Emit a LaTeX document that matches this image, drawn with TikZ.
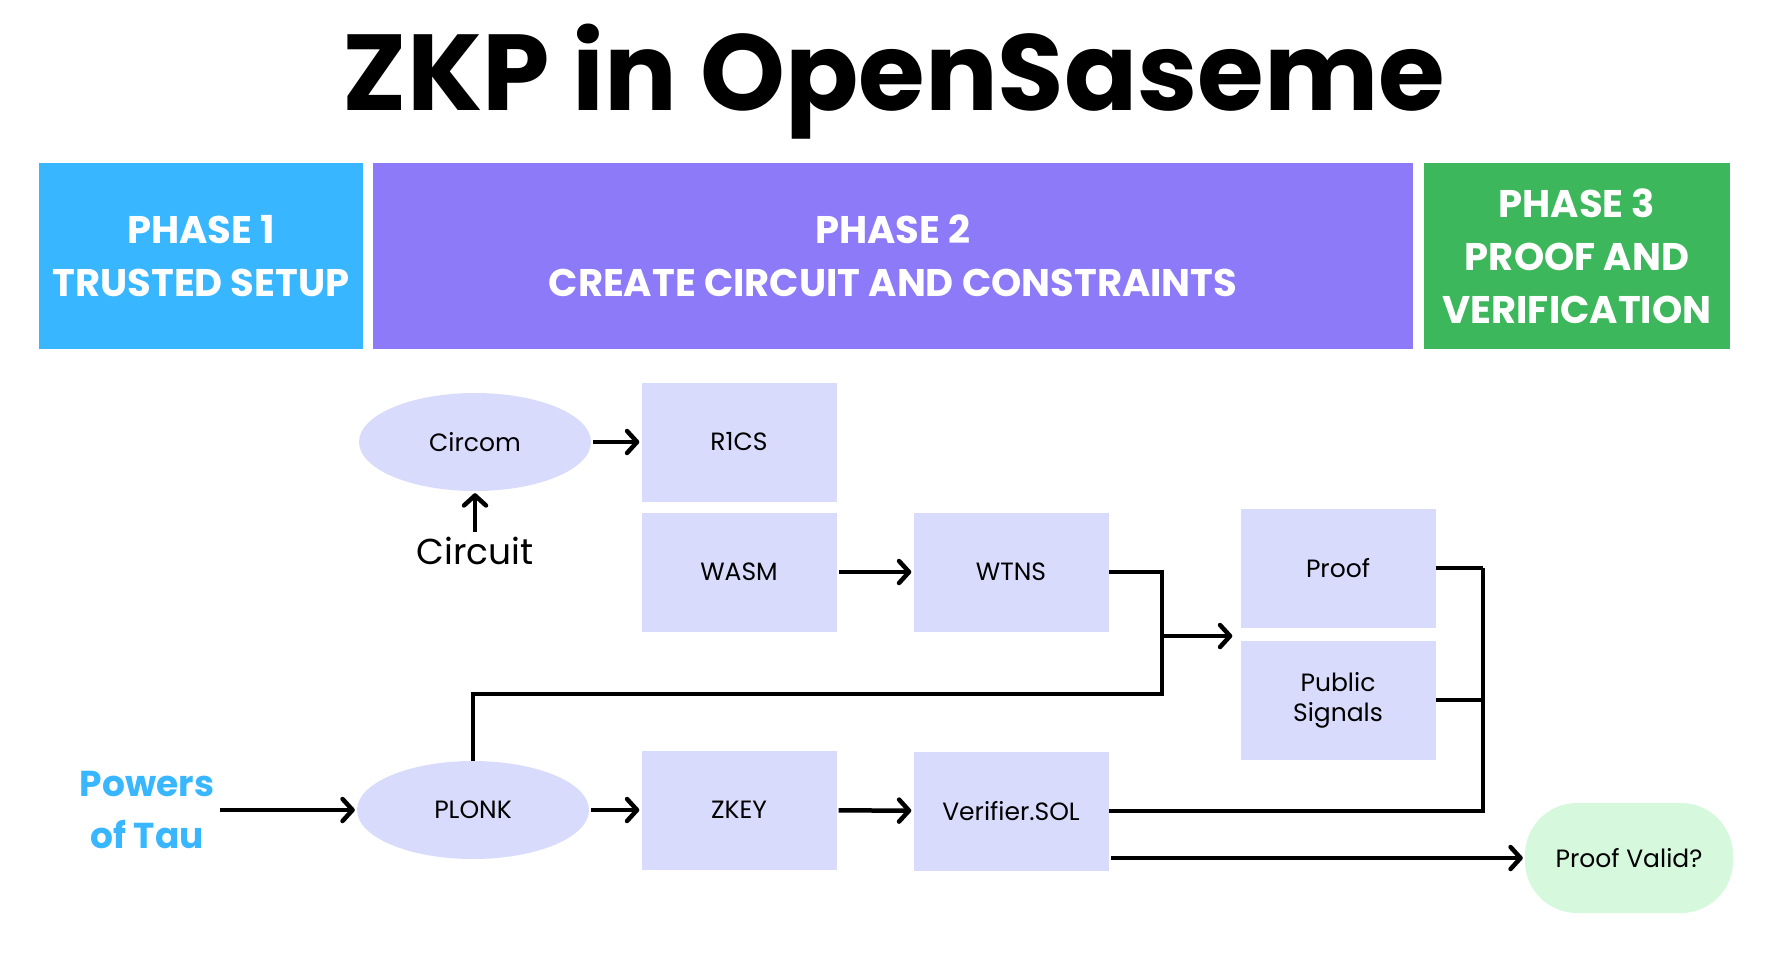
\documentclass[tikz,border=0pt]{standalone}
\usepackage{fontspec}
\setmainfont{Poppins}
\usetikzlibrary{arrows.meta,positioning,shapes.geometric}
\definecolor{tsblue}{HTML}{38B6FF}
\definecolor{ccpurple}{HTML}{8C7AF8}
\definecolor{pvgreen}{HTML}{3DB75B}
\definecolor{lav}{HTML}{D9DBFC}
\definecolor{mint}{HTML}{D6F8DC}
\tikzset{phase/.style={text=white,align=center,minimum height=186pt,inner sep=0pt,font=\bfseries\fontsize{38.5}{53}\selectfont},stepbox/.style={fill=lav,minimum width=195pt,minimum height=119pt,inner sep=0pt,align=center,font=\fontsize{25}{30}\selectfont},oval/.style={ellipse,fill=lav,minimum width=232pt,minimum height=98pt,inner sep=0pt,font=\fontsize{25}{30}\selectfont},edge/.style={-{Straight Barb[length=10pt,width=22pt,round]},line width=4.5pt,shorten <=2pt,shorten >=2pt},link/.style={line width=4.5pt}}

\begin{document}
\begin{tikzpicture}[x=1pt,y=-1pt]
\useasboundingbox (0,0) rectangle (1790,972);
\node[font=\bfseries\fontsize{108}{114}\selectfont,anchor=base](title) at (894,110){ZKP in OpenSaseme};
\node[phase,fill=tsblue,minimum width=324pt](setup) at (201,256){PHASE 1\\TRUSTED SETUP};
\node[phase,fill=ccpurple,minimum width=1040pt](constraints) at (893,256){PHASE 2\\CREATE CIRCUIT AND CONSTRAINTS};
\node[phase,fill=pvgreen,minimum width=306pt](verification) at (1577,256){PHASE 3\\PROOF AND\\VERIFICATION};
\node[oval](circom) at (475,442){Circom};
\node[stepbox](r1cs) at (739,442){R1CS};
\node[stepbox](wasm) at (739,572){WASM};
\node[stepbox](wtns) at (1011,572){WTNS};
\node[stepbox](proof) at (1338,568){Proof};
\node[stepbox](pubsig) at (1338,700){Public\\Signals};
\node[oval](plonk) at (473,810){PLONK};
\node[stepbox](zkey) at (739,810){ZKEY};
\node[stepbox](verifier) at (1011,811){Verifier.SOL};
\node[fill=mint,rounded corners=52pt,minimum width=208pt,minimum height=110pt,font=\fontsize{25}{30}\selectfont](valid) at (1629,858){Proof Valid?};
\node[font=\fontsize{36}{40}\selectfont](circuit) at (475,551){Circuit};
\node[font=\bfseries\fontsize{36}{52}\selectfont,text=tsblue,align=center](tau) at (147,810){Powers\\of Tau};
\coordinate (bend) at (1162,694);
\coordinate (merge) at (1162,636);
\coordinate (bus) at (1483,568);
\draw[edge](circom)--(r1cs);\draw[edge](circuit)--(circom);
\draw[edge](wasm)--(wtns);
\draw[link](wtns.east)-|(bend)-|(plonk.north);
\draw[edge,shorten >=8pt](merge)--(merge-|proof.west);
\draw[link](proof.east)--(bus);\draw[link](pubsig.east)--(pubsig.east-|bus);
\draw[link](verifier.east)-|(bus);
\draw[edge](verifier.east|-valid)--(valid);
\draw[edge](tau)--(plonk);\draw[edge](plonk)--(zkey);\draw[edge](zkey)--(verifier);
\end{tikzpicture}
\end{document}
